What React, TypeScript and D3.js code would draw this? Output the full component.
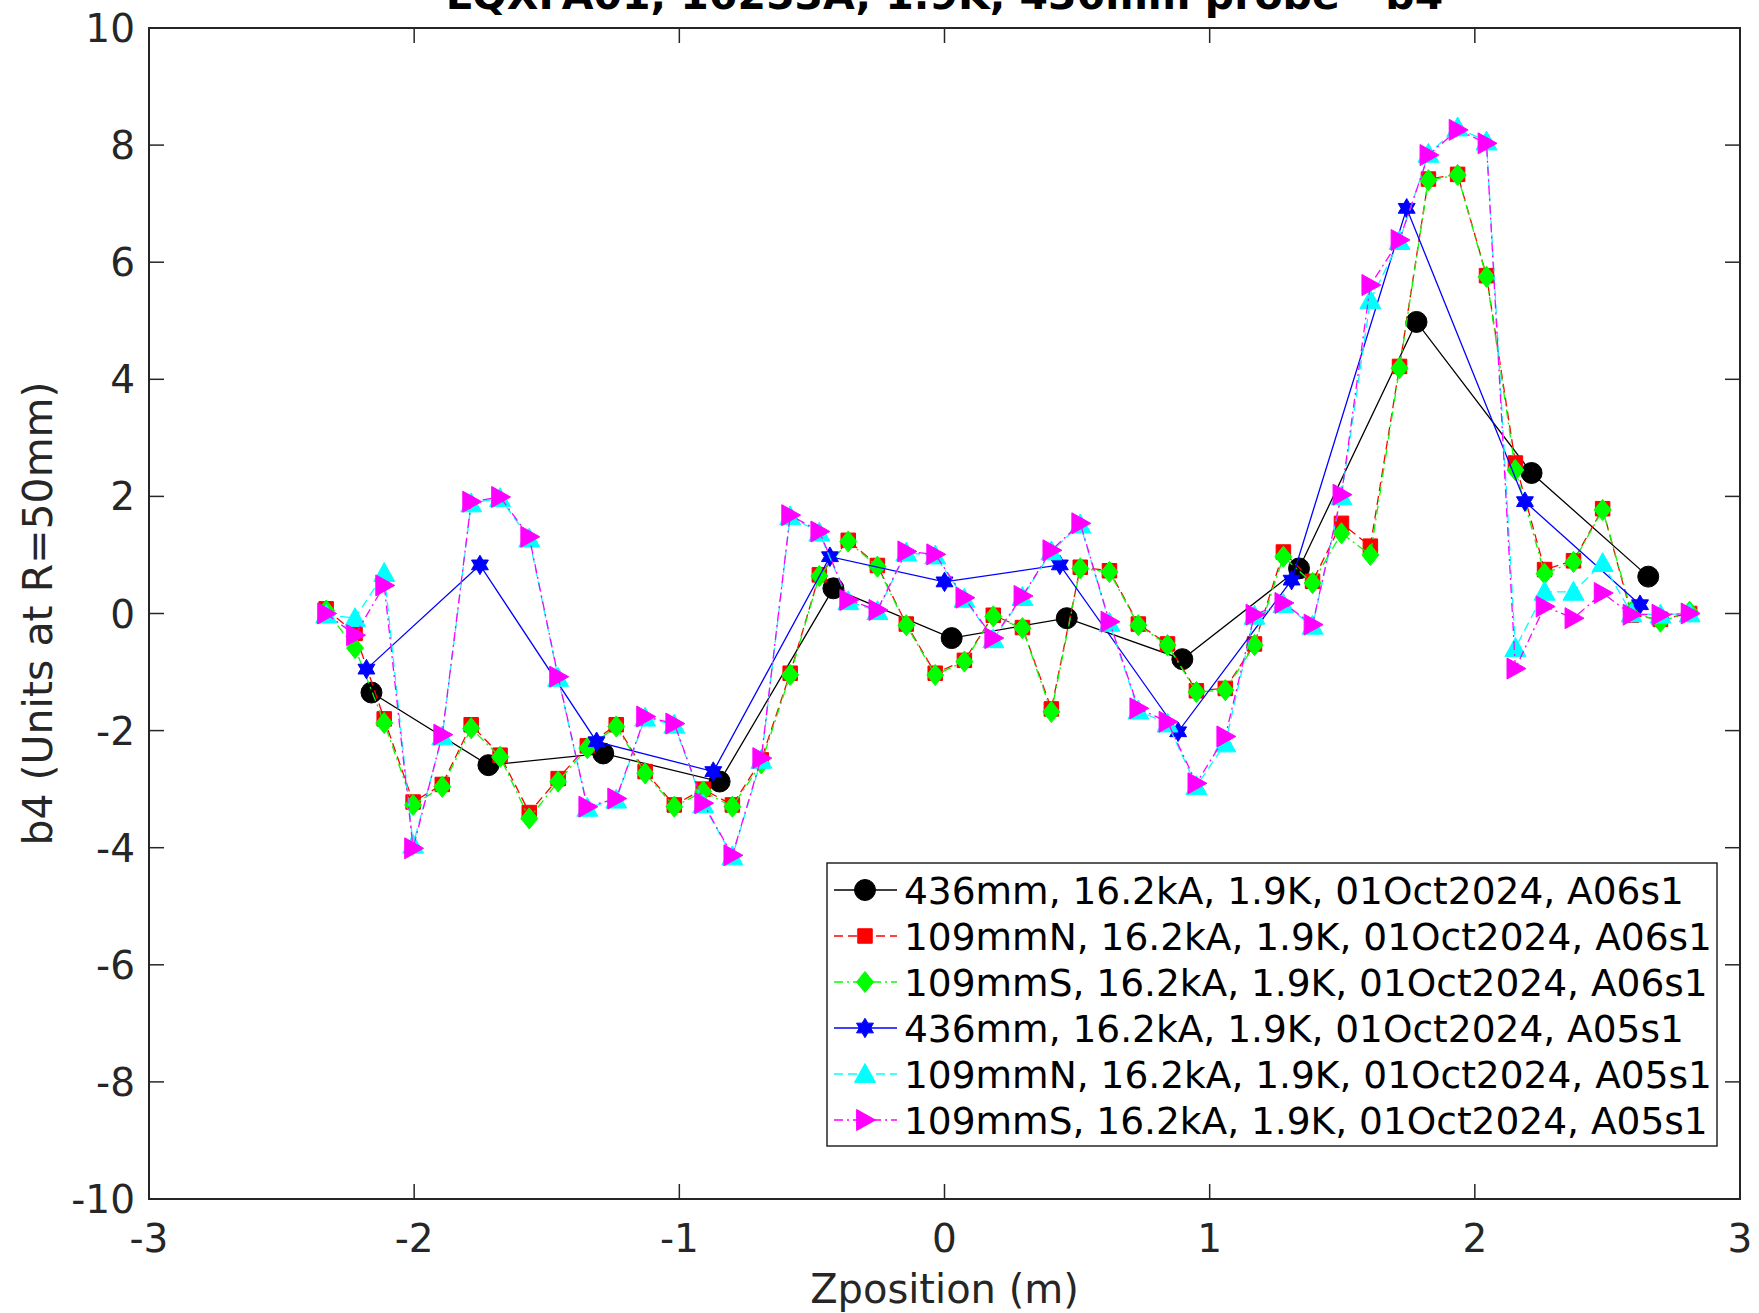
import React from 'react';
import * as d3 from 'd3';

// ---------- data ----------
const titleText = 'LQXFA01, 16253A, 1.9K, 436mm probe - b4';
const xLabel = 'Zposition (m)';
const yLabel = 'b4 (Units at R=50mm)';

const xTicks = [-3, -2, -1, 0, 1, 2, 3];
const yTicks = [-10, -8, -6, -4, -2, 0, 2, 4, 6, 8, 10];

// 436 mm probe, A06s1
const zA06_436 = [-2.161, -1.720, -1.287, -0.848, -0.419, 0.027, 0.461, 0.897, 1.337, 1.780, 2.214, 2.654];
const b4A06_436 = [-1.35, -2.59, -2.39, -2.87, 0.43, -0.42, -0.08, -0.78, 0.77, 4.98, 2.40, 0.63];

// 436 mm probe, A05s1
const zA05_436 = [-2.180, -1.752, -1.312, -0.872, -0.432, 0.000, 0.435, 0.881, 1.309, 1.743, 2.189, 2.623];
const b4A05_436 = [-0.95, 0.83, -2.19, -2.70, 0.97, 0.54, 0.83, -2.02, 0.57, 6.92, 1.91, 0.15];

// 109 mm probes (N and S) positions
const z109 = [
  -2.332, -2.223, -2.113, -2.004, -1.894, -1.785, -1.676, -1.566, -1.457, -1.347,
  -1.238, -1.129, -1.019, -0.910, -0.800, -0.691, -0.582, -0.472, -0.363, -0.253,
  -0.144, -0.035, 0.075, 0.184, 0.294, 0.403, 0.512, 0.622, 0.731, 0.841,
  0.950, 1.059, 1.169, 1.278, 1.388, 1.497, 1.606, 1.716, 1.825, 1.935,
  2.044, 2.153, 2.263, 2.372, 2.482, 2.591, 2.700, 2.810,
];

const b4A06_109N = [
  0.08, -0.34, -1.80, -3.22, -2.92, -1.90, -2.42, -3.40, -2.82, -2.26,
  -1.90, -2.70, -3.27, -3.00, -3.27, -2.50, -1.02, 0.66, 1.25, 0.82,
  -0.18, -1.02, -0.80, -0.03, -0.24, -1.63, 0.79, 0.73, -0.18, -0.52,
  -1.32, -1.28, -0.52, 1.05, 0.55, 1.54, 1.15, 4.22, 7.42, 7.50,
  5.77, 2.57, 0.75, 0.90, 1.79, -0.03, -0.10, 0.00,
];

const b4A06_109S = [
  0.05, -0.59, -1.87, -3.27, -2.96, -1.96, -2.45, -3.50, -2.87, -2.30,
  -1.93, -2.73, -3.30, -3.04, -3.30, -2.56, -1.05, 0.64, 1.23, 0.80,
  -0.20, -1.05, -0.82, -0.05, -0.25, -1.68, 0.77, 0.71, -0.20, -0.54,
  -1.34, -1.31, -0.54, 0.97, 0.52, 1.37, 1.00, 4.19, 7.40, 7.49,
  5.75, 2.45, 0.68, 0.88, 1.77, 0.03, -0.14, 0.03,
];

const b4A05_109N = [
  -0.02, -0.08, 0.69, -3.95, -2.10, 1.88, 1.97, 1.28, -1.10, -3.32,
  -3.18, -1.78, -1.90, -3.26, -4.15, -2.50, 1.66, 1.38, 0.21, 0.04,
  1.04, 0.99, 0.25, -0.44, 0.28, 1.06, 1.52, -0.16, -1.66, -1.88,
  -2.95, -2.22, -0.04, 0.16, -0.21, 2.00, 5.35, 6.36, 7.85, 8.30,
  8.06, -0.59, 0.37, 0.37, 0.86, 0.00, -0.02, 0.00,
];

const b4A05_109S = [
  0.00, -0.37, 0.48, -4.01, -2.07, 1.91, 1.99, 1.31, -1.08, -3.30,
  -3.16, -1.76, -1.88, -3.24, -4.13, -2.47, 1.68, 1.40, 0.23, 0.06,
  1.06, 1.01, 0.27, -0.42, 0.30, 1.08, 1.54, -0.14, -1.62, -1.85,
  -2.90, -2.10, -0.02, 0.18, -0.19, 2.03, 5.61, 6.38, 7.83, 8.26,
  8.03, -0.94, 0.12, -0.08, 0.35, -0.02, -0.02, 0.00,
];

const legendLabels = [
  '436mm, 16.2kA, 1.9K, 01Oct2024, A06s1',
  '109mmN, 16.2kA, 1.9K, 01Oct2024, A06s1',
  '109mmS, 16.2kA, 1.9K, 01Oct2024, A06s1',
  '436mm, 16.2kA, 1.9K, 01Oct2024, A05s1',
  '109mmN, 16.2kA, 1.9K, 01Oct2024, A05s1',
  '109mmS, 16.2kA, 1.9K, 01Oct2024, A05s1',
];

// ---------- custom marker shapes ----------
const symHexagram = {
  draw(ctx: any, size: number) {
    const R = Math.sqrt(size);
    const r = R / Math.sqrt(3);
    for (let i = 0; i < 12; i++) {
      const a = -Math.PI / 2 + (i * Math.PI) / 6;
      const rr = i % 2 === 0 ? R : r;
      const x = rr * Math.cos(a);
      const y = rr * Math.sin(a);
      if (i === 0) ctx.moveTo(x, y);
      else ctx.lineTo(x, y);
    }
    ctx.closePath();
  },
};
const symDiamond = {
  draw(ctx: any, size: number) {
    const h = Math.sqrt(size);
    const w = h * 0.8;
    ctx.moveTo(0, -h);
    ctx.lineTo(w, 0);
    ctx.lineTo(0, h);
    ctx.lineTo(-w, 0);
    ctx.closePath();
  },
};
const symTriUp = {
  draw(ctx: any, size: number) {
    const s = Math.sqrt(size);
    ctx.moveTo(0, -s);
    ctx.lineTo(s, s * 0.8);
    ctx.lineTo(-s, s * 0.8);
    ctx.closePath();
  },
};
const symTriRight = {
  draw(ctx: any, size: number) {
    const s = Math.sqrt(size);
    ctx.moveTo(s, 0);
    ctx.lineTo(-s * 0.8, s);
    ctx.lineTo(-s * 0.8, -s);
    ctx.closePath();
  },
};

const seriesDefs = [
  { z: zA06_436, v: b4A06_436, color: '#000000', dash: '', sym: d3.symbolCircle, size: Math.PI * 110 },
  { z: z109, v: b4A06_109N, color: '#ff0000', dash: '9,5', sym: d3.symbolSquare, size: 210 },
  { z: z109, v: b4A06_109S, color: '#00ff00', dash: '9,4,2,4', sym: symDiamond, size: 112 },
  { z: zA05_436, v: b4A05_436, color: '#0000ff', dash: '', sym: symHexagram, size: 95 },
  { z: z109, v: b4A05_109N, color: '#00ffff', dash: '9,5', sym: symTriUp, size: 110 },
  { z: z109, v: b4A05_109S, color: '#ff00ff', dash: '9,4,2,4', sym: symTriRight, size: 110 },
];

// ---------- layout ----------
const W = 1759;
const H = 1313;
const L = 149;
const R = 1740;
const T = 28;
const B = 1199;
const FONT = 'DejaVu Sans, Liberation Sans, sans-serif';
const AX = '#262626';

export default function App() {
  const x = d3.scaleLinear().domain([-3, 3]).range([L, R]);
  const y = d3.scaleLinear().domain([-10, 10]).range([B, T]);
  const line = d3
    .line<[number, number]>()
    .x((d) => x(d[0]))
    .y((d) => y(d[1]));

  const tickLen = 15;
  const legX0 = 827;
  const legY0 = 863;
  const legW = 890;
  const legH = 283;
  const rowH = 46;
  const rowY0 = 890;

  return (
    <svg
      width={W}
      height={H}
      style={{ position: 'absolute', left: 0, top: 0, background: '#fff' }}
      fontFamily={FONT}
    >
      <rect x={0} y={0} width={W} height={H} fill="#ffffff" />
      <text x={(L + R) / 2} y={8.5} textAnchor="middle" fontSize={41} fontWeight="bold" fill="#000">
        {titleText}
      </text>

      {/* series */}
      <g>
        {seriesDefs.map((s, i) => {
          const pts: [number, number][] = s.z.map((z, k) => [z, s.v[k]]);
          const sym = d3.symbol().type(s.sym as any).size(s.size);
          const p = sym() as string;
          return (
            <g key={i}>
              <path
                d={line(pts) as string}
                fill="none"
                stroke={s.color}
                strokeWidth={1.3}
                strokeDasharray={s.dash || undefined}
              />
              {pts.map((d, k) => (
                <path
                  key={k}
                  d={p}
                  transform={`translate(${x(d[0])},${y(d[1])})`}
                  fill={s.color}
                  stroke={s.color}
                  strokeWidth={1}
                />
              ))}
            </g>
          );
        })}
      </g>

      {/* axes box */}
      <rect x={L} y={T} width={R - L} height={B - T} fill="none" stroke={AX} strokeWidth={2} />
      {xTicks.map((t) => (
        <g key={'x' + t}>
          <line x1={x(t)} x2={x(t)} y1={B} y2={B - tickLen} stroke={AX} strokeWidth={1.5} />
          <line x1={x(t)} x2={x(t)} y1={T} y2={T + tickLen} stroke={AX} strokeWidth={1.5} />
          <text x={x(t)} y={1252} textAnchor="middle" fontSize={39} fill={AX}>
            {String(t)}
          </text>
        </g>
      ))}
      {yTicks.map((t) => (
        <g key={'y' + t}>
          <line x1={L} x2={L + tickLen} y1={y(t)} y2={y(t)} stroke={AX} strokeWidth={1.5} />
          <line x1={R} x2={R - tickLen} y1={y(t)} y2={y(t)} stroke={AX} strokeWidth={1.5} />
          <text x={135} y={y(t)} dy="0.36em" textAnchor="end" fontSize={39} fill={AX}>
            {String(t)}
          </text>
        </g>
      ))}
      <text x={(L + R) / 2} y={1303} textAnchor="middle" fontSize={40} fill={AX}>
        {xLabel}
      </text>
      <text
        transform={`translate(52,${(T + B) / 2}) rotate(-90)`}
        textAnchor="middle"
        fontSize={41}
        fill={AX}
      >
        {yLabel}
      </text>

      {/* legend */}
      <rect x={legX0} y={legY0} width={legW} height={legH} fill="#ffffff" stroke={AX} strokeWidth={1.5} />
      {seriesDefs.map((s, i) => {
        const cy = rowY0 + i * rowH;
        const p = d3.symbol().type(s.sym as any).size(s.size)() as string;
        return (
          <g key={'leg' + i}>
            <line x1={834} x2={897} y1={cy} y2={cy} stroke={s.color} strokeWidth={1.3} strokeDasharray={s.dash || undefined} />
            <path d={p} transform={`translate(865,${cy})`} fill={s.color} stroke={s.color} strokeWidth={1} />
            <text x={904} y={cy} dy="0.36em" fontSize={37.5} fill="#000">
              {legendLabels[i]}
            </text>
          </g>
        );
      })}
    </svg>
  );
}
